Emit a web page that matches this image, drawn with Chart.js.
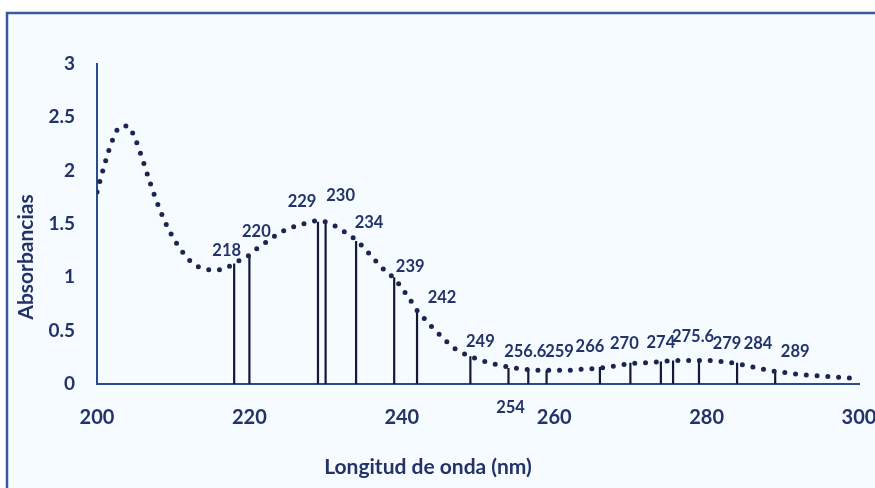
<!DOCTYPE html>
<html lang="es">
<head>
<meta charset="utf-8">
<title>Espectro de absorbancia</title>
<script src="https://cdn.jsdelivr.net/npm/chart.js@4.4.1/dist/chart.umd.min.js"></script>
<style>
  html, body { margin: 0; padding: 0; background: #ffffff; }
  #chart { display: block; }
</style>
</head>
<body>
<canvas id="chart" width="875" height="488"></canvas>
<script>
// Espectro UV: curva punteada de absorbancia + líneas verticales en los picos

const curveNm = [
  200, 201, 202, 203, 204, 205, 206, 207, 208, 209,
  210, 211, 212, 213, 214, 215, 216, 217, 218, 219,
  220, 221, 222, 223, 224, 225, 226, 227, 228, 229,
  230, 231, 232, 233, 234, 235, 236, 237, 238, 239,
  240, 241, 242, 243, 244, 245, 246, 247, 248, 249,
  250, 252, 254, 256, 258, 260, 262, 264, 266, 268,
  270, 272, 274, 276, 278, 280, 282, 284, 286, 288,
  290, 292, 294, 296, 298, 300
]
const curveAbs = [
  1.80, 2.06, 2.28, 2.41, 2.42, 2.30, 2.10, 1.88, 1.68, 1.51,
  1.37, 1.26, 1.17, 1.11, 1.08, 1.07, 1.07, 1.09, 1.13, 1.17,
  1.21, 1.27, 1.32, 1.37, 1.42, 1.45, 1.48, 1.50, 1.52, 1.53,
  1.52, 1.49, 1.45, 1.40, 1.35, 1.28, 1.20, 1.12, 1.05, 0.99,
  0.90, 0.80, 0.69, 0.61, 0.53, 0.46, 0.39, 0.33, 0.29, 0.26,
  0.23, 0.19, 0.16, 0.14, 0.13, 0.13, 0.13, 0.14, 0.15, 0.17,
  0.19, 0.20, 0.21, 0.22, 0.22, 0.22, 0.21, 0.19, 0.16, 0.13,
  0.11, 0.09, 0.08, 0.07, 0.06, 0.05
]

// longitudes de onda marcadas y su absorbancia
const peakNm = [218, 220, 229, 230, 234, 239, 242, 249, 254, 256.6, 259, 266, 270, 274, 275.6, 279, 284, 289]
const peakAbs = [1.13, 1.21, 1.52, 1.52, 1.34, 1.00, 0.68, 0.26, 0.15, 0.14, 0.13, 0.16, 0.20, 0.21, 0.22, 0.22, 0.20, 0.125]

// desplazamiento de cada etiqueta respecto al extremo de su línea (px)
const labelDx = [-7.5, 7, -16, 15, 13, 16, 25, 10, 2, -3, 13, -10, -6, 0, 20, 28, 21, 20]
const labelDy = [-13, -23, -20, -26, -18, -11, -14, -15, 40, -17, -18, -20, -19, -19, -24, -17, -19, -19]

const xTickValues = [200, 220, 240, 260, 280, 300]
const yTickValues = [0, 0.5, 1, 1.5, 2, 2.5, 3]

const INK = '#1a2550'
const TEXT = '#22336a'
const AXIS = '#2c4a8e'

const curveData = curveNm.map((x, i) => ({ x: x, y: curveAbs[i] }))

// each stem goes from 0 to its value, then a null point breaks the path
const stemData = []
peakNm.forEach((x, i) => {
  stemData.push({ x: x, y: 0 }, { x: x, y: peakAbs[i] }, { x: x, y: null })
})

const framePlugin = {
  id: 'frame',
  beforeDraw (chart) {
    const ctx = chart.ctx
    ctx.save()
    ctx.fillStyle = '#f5fbfe'
    ctx.fillRect(7, 13, chart.width - 7, chart.height - 13)
    ctx.strokeStyle = '#3a5a9c'
    ctx.lineWidth = 2.5
    ctx.beginPath()
    ctx.moveTo(7, chart.height)
    ctx.lineTo(7, 13)
    ctx.lineTo(chart.width, 13)
    ctx.stroke()
    ctx.restore()
  }
}

const peakLabelPlugin = {
  id: 'peakLabels',
  afterDatasetsDraw (chart) {
    const ctx = chart.ctx
    const xs = chart.scales.x
    const ys = chart.scales.y
    ctx.save()
    ctx.font = 'bold 16.5px Lato'
    ctx.fillStyle = TEXT
    ctx.textAlign = 'center'
    ctx.textBaseline = 'middle'
    peakNm.forEach((nm, i) => {
      const px = xs.getPixelForValue(nm) + labelDx[i]
      const py = ys.getPixelForValue(peakAbs[i]) + labelDy[i]
      ctx.fillText(String(nm), px, py)
    })

    // axis titles: the x one sits left of the plot centre, the y one below it
    ctx.font = 'bold 21px Lato'
    ctx.fillText('Longitud de onda (nm)', 428, 467)
    ctx.translate(26, 257)
    ctx.rotate(-Math.PI / 2)
    ctx.fillText('Absorbancias', 0, 0)
    ctx.restore()
  }
}

new Chart(document.getElementById('chart'), {
  type: 'line',
  data: {
    datasets: [
      {
        label: 'Absorbancia',
        data: curveData,
        borderColor: INK,
        borderWidth: 5,
        borderDash: [0, 10.8],
        borderCapStyle: 'round',
        cubicInterpolationMode: 'monotone',
        pointRadius: 0,
        fill: false
      },
      {
        label: 'Picos',
        data: stemData,
        borderColor: '#121a38',
        borderWidth: 2.2,
        pointRadius: 0,
        spanGaps: false,
        tension: 0,
        fill: false
      }
    ]
  },
  options: {
    responsive: false,
    animation: false,
    layout: { padding: { top: 64, right: 16, bottom: 0, left: 0 } },
    plugins: {
      legend: { display: false },
      tooltip: { enabled: false }
    },
    scales: {
      x: {
        type: 'linear',
        min: 200,
        max: 300,
        afterBuildTicks: (scale) => { scale.ticks = xTickValues.map(v => ({ value: v })) },
        afterFit: (scale) => {
          scale.height = 104
          scale.paddingLeft = 0
          scale.paddingRight = 0
        },
        grid: { display: false, drawTicks: false },
        border: { display: true, color: AXIS, width: 2 },
        ticks: {
          color: TEXT,
          padding: 22,
          maxRotation: 0,
          font: { family: 'Lato', size: 20, weight: 'bold' }
        }
      },
      y: {
        min: 0,
        max: 3,
        afterBuildTicks: (scale) => { scale.ticks = yTickValues.map(v => ({ value: v })) },
        afterFit: (scale) => {
          scale.width = 97
          scale.paddingTop = 0
          scale.paddingBottom = 0
        },
        grid: { display: false, drawTicks: false },
        border: { display: true, color: AXIS, width: 2 },
        ticks: {
          color: TEXT,
          padding: 22,
          callback: (v) => String(v),
          font: { family: 'Lato', size: 19, weight: 'bold' }
        }
      }
    }
  },
  plugins: [framePlugin, peakLabelPlugin]
})
</script>
</body>
</html>
